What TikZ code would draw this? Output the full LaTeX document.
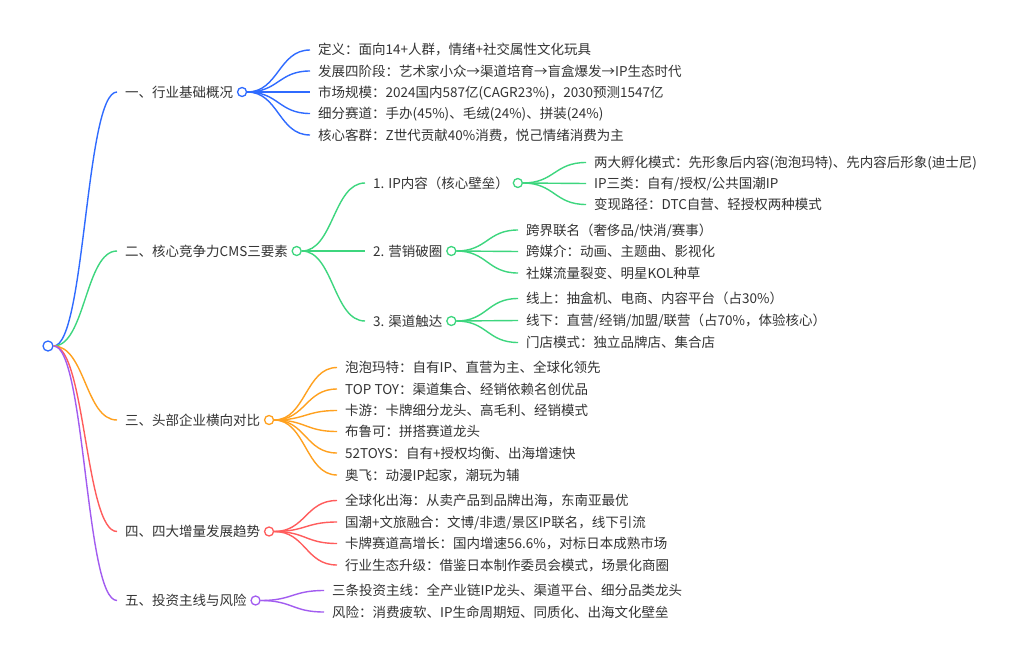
\documentclass[tikz,border=0pt]{standalone}
\usepackage{fontspec}
\newfontfamily\cjk{Noto Sans CJK SC}
\usetikzlibrary{calc}
\definecolor{cB}{HTML}{2F6BFF}
\definecolor{cG}{HTML}{3DD67E}
\definecolor{cO}{HTML}{FFA11F}
\definecolor{cR}{HTML}{FF5C5C}
\definecolor{cP}{HTML}{A25CF0}
\definecolor{txt}{HTML}{333333}
\tikzset{
  lbl/.style={anchor=west, inner xsep=0pt, inner ysep=0pt, text height=11.5pt, text depth=1.5pt,
    font=\cjk\fontsize{13.5}{16}\selectfont, text=txt},
  dot/.style={circle, draw=#1, fill=white, line width=1.3pt, minimum size=9pt, inner sep=0pt},
  mm/.style={to path={let \p1=(\tikztostart), \p2=(\tikztotarget) in
     .. controls (\x1/2+\x2/2,\y1) and (\x1/2+\x2/2,\y2) .. (\tikztotarget)}},
  br/.style={draw=#1, line width=1.4pt, mm},
}
\begin{document}
\begin{tikzpicture}[x=1pt,y=-1pt]
\useasboundingbox[fill=white] (0,0) rectangle (1024,661);

% root
\node[dot=cB, minimum size=10pt] (root) at (48,346) {};

% level 1
\node[lbl] (a1) at (125,92) {一、行业基础概况};
\node[dot=cB, anchor=west] (a1d) at ([xshift=3.5pt]a1.east) {};
\node[lbl] (a2) at (125,251) {二、核心竞争力CMS三要素};
\node[dot=cG, anchor=west] (a2d) at ([xshift=3.5pt]a2.east) {};
\node[lbl] (a3) at (125,420) {三、头部企业横向对比};
\node[dot=cO, anchor=west] (a3d) at ([xshift=3.5pt]a3.east) {};
\node[lbl] (a4) at (125,531.5) {四、四大增量发展趋势};
\node[dot=cR, anchor=west] (a4d) at ([xshift=3.5pt]a4.east) {};
\node[lbl] (a5) at (125,600.5) {五、投资主线与风险};
\node[dot=cP, anchor=west] (a5d) at ([xshift=3.5pt]a5.east) {};

\draw[br=cB] (root.east) to ([xshift=-8pt]a1.west);
\draw[br=cG] (root.east) to ([xshift=-8pt]a2.west);
\draw[br=cO] (root.east) to ([xshift=-8pt]a3.west);
\draw[br=cR] (root.east) to ([xshift=-8pt]a4.west);
\draw[br=cP] (root.east) to ([xshift=-8pt]a5.west);

% branch 1
\node[lbl] (a1c1) at (318,50) {定义：面向14+人群，情绪+社交属性文化玩具};
\node[lbl] (a1c2) at (318,71) {发展四阶段：艺术家小众→渠道培育→盲盒爆发→IP生态时代};
\node[lbl] (a1c3) at (318,92) {市场规模：2024国内587亿(CAGR23\%)，2030预测1547亿};
\node[lbl] (a1c4) at (318,113.5) {细分赛道：手办(45\%)、毛绒(24\%)、拼装(24\%)};
\node[lbl] (a1c5) at (318,135) {核心客群：Z世代贡献40\%消费，悦己情绪消费为主};
\foreach \i in {1,...,5} \draw[br=cB] (a1d.east) to ([xshift=-8pt]a1c\i.west);

% branch 2
\node[lbl] (b1) at (373,183) {1. IP内容（核心壁垒）};
\node[dot=cG, anchor=west] (b1d) at ([xshift=3.5pt]b1.east) {};
\node[lbl] (b2) at (373,251) {2. 营销破圈};
\node[dot=cG, anchor=west] (b2d) at ([xshift=3.5pt]b2.east) {};
\node[lbl] (b3) at (373,321) {3. 渠道触达};
\node[dot=cG, anchor=west] (b3d) at ([xshift=3.5pt]b3.east) {};
\foreach \i in {1,2,3} \draw[br=cG] (a2d.east) to ([xshift=-8pt]b\i.west);

\node[lbl] (b1c1) at (594,162.5) {两大孵化模式：先形象后内容(泡泡玛特)、先内容后形象(迪士尼)};
\node[lbl] (b1c2) at (594,183.5) {IP三类：自有/授权/公共国潮IP};
\node[lbl] (b1c3) at (594,204.5) {变现路径：DTC自营、轻授权两种模式};
\foreach \i in {1,2,3} \draw[br=cG] (b1d.east) to ([xshift=-8pt]b1c\i.west);

\node[lbl] (b2c1) at (526,230) {跨界联名（奢侈品/快消/赛事）};
\node[lbl] (b2c2) at (526,251.5) {跨媒介：动画、主题曲、影视化};
\node[lbl] (b2c3) at (526,273) {社媒流量裂变、明星KOL种草};
\foreach \i in {1,2,3} \draw[br=cG] (b2d.east) to ([xshift=-8pt]b2c\i.west);

\node[lbl] (b3c1) at (526,298.5) {线上：抽盒机、电商、内容平台（占30\%）};
\node[lbl] (b3c2) at (526,320.5) {线下：直营/经销/加盟/联营（占70\%，体验核心）};
\node[lbl] (b3c3) at (526,342.5) {门店模式：独立品牌店、集合店};
\foreach \i in {1,2,3} \draw[br=cG] (b3d.east) to ([xshift=-8pt]b3c\i.west);

% branch 3
\node[lbl] (a3c1) at (345,367.5) {泡泡玛特：自有IP、直营为主、全球化领先};
\node[lbl] (a3c2) at (345,389) {TOP TOY：渠道集合、经销依赖名创优品};
\node[lbl] (a3c3) at (345,410.5) {卡游：卡牌细分龙头、高毛利、经销模式};
\node[lbl] (a3c4) at (345,431.5) {布鲁可：拼搭赛道龙头};
\node[lbl] (a3c5) at (345,453) {52TOYS：自有+授权均衡、出海增速快};
\node[lbl] (a3c6) at (345,475) {奥飞：动漫IP起家，潮玩为辅};
\foreach \i in {1,...,6} \draw[br=cO] (a3d.east) to ([xshift=-8pt]a3c\i.west);

% branch 4
\node[lbl] (a4c1) at (345,500.5) {全球化出海：从卖产品到品牌出海，东南亚最优};
\node[lbl] (a4c2) at (345,522) {国潮+文旅融合：文博/非遗/景区IP联名，线下引流};
\node[lbl] (a4c3) at (345,543.5) {卡牌赛道高增长：国内增速56.6\%，对标日本成熟市场};
\node[lbl] (a4c4) at (345,565) {行业生态升级：借鉴日本制作委员会模式，场景化商圈};
\foreach \i in {1,...,4} \draw[br=cR] (a4d.east) to ([xshift=-8pt]a4c\i.west);

% branch 5
\node[lbl] (a5c1) at (332,590.5) {三条投资主线：全产业链IP龙头、渠道平台、细分品类龙头};
\node[lbl] (a5c2) at (332,612) {风险：消费疲软、IP生命周期短、同质化、出海文化壁垒};
\foreach \i in {1,2} \draw[br=cP] (a5d.east) to ([xshift=-8pt]a5c\i.west);
\end{tikzpicture}
\end{document}
